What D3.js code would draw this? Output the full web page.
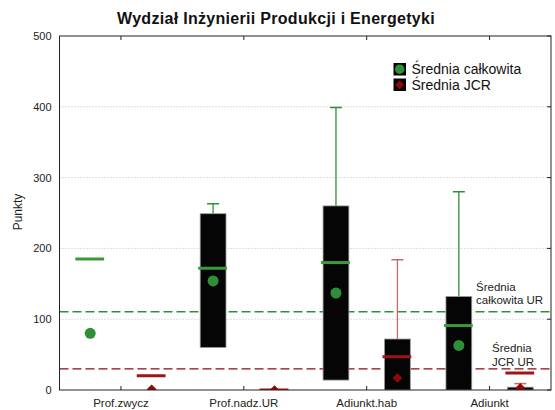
<!DOCTYPE html>
<html>
<head>
<meta charset="utf-8">
<script src="https://cdn.jsdelivr.net/npm/d3@7"></script>
<style>
body{margin:0;background:#fff;font-family:"Liberation Sans",Arial,sans-serif}
</style>
</head>
<body>
<div id="chart"></div>
<script>
var categories = ["Prof.zwycz","Prof.nadz.UR","Adiunkt.hab","Adiunkt"]
// Średnia całkowita (green)
var totMedian = [185, 172, 180, 91]
var totQ1 = [185, 60, 14, 0]
var totQ3 = [185, 249, 260, 132]
var totMax = [185, 263, 399, 280]
var totMean = [80, 154, 137, 63]
// Średnia JCR (red)
var jcrMedian = [20, 0, 47, 24]
var jcrQ1 = [20, 0, 0, 0]
var jcrQ3 = [20, 0, 72, 4]
var jcrMax = [20, 0, 184, 9]
var jcrMean = [1, 0, 17, 3]
var yTicks = [0,100,200,300,400,500]
var refTotal = 110.5
var refJCR = 29.7

var width = 555, height = 410
var pLeft = 59.5, pRight = 551, pTop = 36, pBottom = 390
var green = "#2f8f38", greenLine = "#3a9a3a", red = "#8e0a0a", redWhisk = "#c46a6a"

var svg = d3.select("#chart").append("svg").attr("width",width).attr("height",height)

svg.append("clipPath").attr("id","plotclip").append("rect")
	.attr("x",pLeft).attr("y",pTop).attr("width",pRight-pLeft).attr("height",pBottom-pTop)

var x = d3.scaleBand().domain(categories).range([pLeft,pRight])
var y = d3.scaleLinear().domain([0,500]).range([pBottom,pTop])
var bw = x.bandwidth()
var boxW = bw*0.21
var off = bw*0.25

// title
svg.append("text").text("Wydział Inżynierii Produkcji i Energetyki")
	.attr("x",276).attr("y",23.5).attr("text-anchor","middle")
	.style("font-size","16px").style("font-weight","bold").style("letter-spacing","0.3px").attr("fill","#111")

// grid
svg.selectAll("line.grid").data(yTicks.filter(function(d){return d>0 && d<500})).enter()
	.append("line").attr("class","grid")
	.attr("x1",pLeft).attr("x2",pRight).attr("y1",function(d){return y(d)}).attr("y2",function(d){return y(d)})
	.attr("stroke","#bbb").attr("stroke-dasharray","1,2").attr("stroke-width",1)

// axes
var yAxis = svg.append("g").attr("transform","translate("+pLeft+",0)")
	.call(d3.axisLeft(y).tickValues(yTicks).tickSize(0).tickPadding(8))
yAxis.select(".domain").remove()
yAxis.selectAll("text").style("font-size","11px").style("font-family","Liberation Sans, Arial").attr("fill","#222")

var xAxis = svg.append("g").attr("transform","translate(0,"+pBottom+")")
	.call(d3.axisBottom(x).tickSize(0).tickPadding(9))
xAxis.select(".domain").remove()
xAxis.selectAll("text").style("font-size","11.5px").style("font-family","Liberation Sans, Arial").attr("fill","#222")

// inner ticks
categories.forEach(function(c){
	var cx = x(c)+bw/2
	svg.append("line").attr("x1",cx).attr("x2",cx).attr("y1",pTop).attr("y2",pTop+4).attr("stroke","#222")
	svg.append("line").attr("x1",cx).attr("x2",cx).attr("y1",pBottom).attr("y2",pBottom-4).attr("stroke","#222")
})
yTicks.forEach(function(t){
	svg.append("line").attr("x1",pRight).attr("x2",pRight-4).attr("y1",y(t)).attr("y2",y(t)).attr("stroke","#222")
})

// y label
svg.append("text").text("Punkty").attr("transform","translate(22,"+212+") rotate(-90)")
	.attr("text-anchor","middle").style("font-size","12px").attr("fill","#222")

// reference lines
svg.append("line").attr("x1",pLeft).attr("x2",pRight).attr("y1",y(refTotal)).attr("y2",y(refTotal))
	.attr("stroke",green).attr("stroke-width",1.3).attr("stroke-dasharray","9,4")
svg.append("line").attr("x1",pLeft).attr("x2",pRight).attr("y1",y(refJCR)).attr("y2",y(refJCR))
	.attr("stroke",red).attr("stroke-width",1.3).attr("stroke-dasharray","9,4")

var marks = svg.append("g").attr("clip-path","url(#plotclip)")

function drawSeries(med,q1,q3,mx,mean,dx,lineCol,whiskCol,markCol,diamond) {
	categories.forEach(function(c,i){
		var cx = x(c)+bw/2+dx
		var g = marks.append("g")
		if(mx[i] > q3[i]) {
			g.append("line").attr("x1",cx).attr("x2",cx).attr("y1",y(q3[i])).attr("y2",y(mx[i]))
				.attr("stroke",whiskCol).attr("stroke-width",1.3)
			g.append("line").attr("x1",cx-6).attr("x2",cx+6).attr("y1",y(mx[i])).attr("y2",y(mx[i]))
				.attr("stroke",whiskCol).attr("stroke-width",1.5)
		}
		if(q3[i] > q1[i]) {
			g.append("rect").attr("x",cx-boxW/2).attr("width",boxW)
				.attr("y",y(q3[i])).attr("height",y(q1[i])-y(q3[i]))
				.attr("fill","#050505").attr("stroke","#999").attr("stroke-width",0.8)
		}
		g.append("line").attr("x1",cx-boxW/2-2).attr("x2",cx+boxW/2+1).attr("y1",y(med[i])).attr("y2",y(med[i]))
			.attr("stroke",lineCol).attr("stroke-width",3)
		if(diamond) {
			g.append("path").attr("d",d3.symbol().type(d3.symbolDiamond2).size(60)())
				.attr("transform","translate("+cx+","+y(mean[i])+")").attr("fill",markCol)
		} else {
			g.append("circle").attr("cx",cx).attr("cy",y(mean[i])).attr("r",5.5).attr("fill",markCol)
		}
	})
}
drawSeries(totMedian,totQ1,totQ3,totMax,totMean,-off,greenLine,green,green,false)
drawSeries(jcrMedian,jcrQ1,jcrQ3,jcrMax,jcrMean,off,"#a01414",redWhisk,red,true)

// frame
svg.append("rect").attr("x",pLeft).attr("y",pTop).attr("width",pRight-pLeft).attr("height",pBottom-pTop)
	.attr("fill","none").attr("stroke","#222").attr("stroke-width",1)

// reference labels
var refLab = svg.append("g").style("font-size","11.5px").attr("fill","#222")
refLab.append("text").attr("x",476).attr("y",291).text("Średnia")
refLab.append("text").attr("x",476).attr("y",304).text("całkowita UR")
refLab.append("text").attr("x",492).attr("y",352).text("Średnia")
refLab.append("text").attr("x",492).attr("y",366).text("JCR UR")

// legend
var legend = [{name:"Średnia całkowita",col:green,diamond:false},{name:"Średnia JCR",col:red,diamond:true}]
legend.forEach(function(l,i){
	var ly = 63+i*15.5
	svg.append("rect").attr("x",393.5).attr("y",ly).attr("width",12.5).attr("height",12.5).attr("fill","#050505")
	if(l.diamond) {
		svg.append("path").attr("d",d3.symbol().type(d3.symbolDiamond2).size(50)())
			.attr("transform","translate(399.7,"+(ly+6.2)+")").attr("fill",l.col)
	} else {
		svg.append("circle").attr("cx",399.7).attr("cy",ly+6.2).attr("r",4.8).attr("fill",l.col)
	}
	svg.append("text").attr("x",411.5).attr("y",ly+11).text(l.name).style("font-size","14px").attr("fill","#111")
})
</script>
</body>
</html>
